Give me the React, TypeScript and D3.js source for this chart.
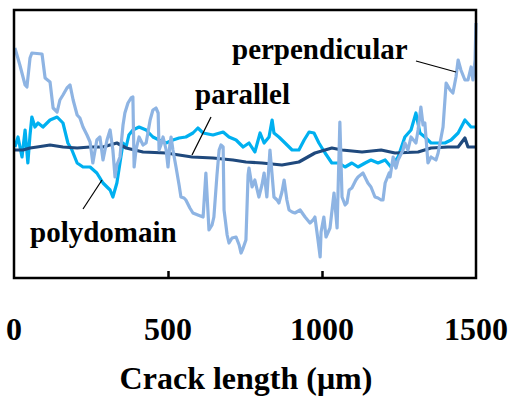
import { useEffect, useRef } from 'react'
import * as d3 from 'd3'

// crack length (µm) / height (arbitrary units, 0 = bottom of frame)
const perpX = [3, 19, 36, 42, 52, 58, 91, 101, 117, 127, 140, 149, 159, 172, 182, 192, 205, 214, 224, 237, 247, 256, 269, 279, 289, 302, 312, 321, 328, 334, 344, 354, 360, 370, 380, 386, 390, 396, 406, 419, 429, 442, 451, 461, 468, 471, 477, 484, 494, 500, 506, 510, 516, 526, 536, 542, 552, 558, 571, 581, 597, 614, 623, 633, 643, 649, 659, 666, 672, 679, 682, 692, 698, 708, 721, 731, 737, 744, 753, 760, 763, 773, 782, 795, 805, 812, 821, 831, 838, 844, 854, 860, 870, 877, 886, 893, 903, 912, 929, 945, 961, 971, 977, 987, 994, 997, 1006, 1013, 1026, 1039, 1049, 1058, 1065, 1075, 1081, 1088, 1097, 1110, 1117, 1133, 1149, 1159, 1172, 1182, 1192, 1198, 1205, 1218, 1221, 1231, 1240, 1247, 1263, 1269, 1279, 1289, 1305, 1312, 1321, 1328, 1334, 1344, 1354, 1370, 1377, 1393, 1403, 1416, 1425, 1435, 1442, 1451, 1464, 1474, 1484, 1490, 1497, 1500]
const perpY = [230, 213, 193, 191, 220, 225, 224, 200, 196, 170, 166, 178, 183, 190, 193, 178, 163, 160, 151, 143, 136, 115, 138, 141, 118, 138, 148, 128, 101, 113, 121, 153, 165, 175, 180, 181, 111, 128, 141, 133, 135, 158, 168, 170, 165, 128, 133, 141, 128, 111, 133, 141, 128, 111, 93, 81, 80, 78, 70, 65, 63, 61, 105, 48, 53, 61, 103, 128, 133, 131, 68, 43, 35, 40, 41, 33, 25, 30, 38, 103, 110, 91, 98, 81, 93, 105, 81, 128, 103, 81, 78, 75, 86, 98, 78, 68, 66, 65, 68, 61, 55, 58, 61, 38, 21, 46, 61, 41, 50, 85, 50, 156, 81, 73, 75, 88, 90, 98, 101, 105, 95, 91, 81, 80, 78, 78, 95, 105, 101, 121, 110, 118, 128, 135, 128, 141, 135, 148, 171, 153, 155, 115, 121, 118, 125, 151, 195, 188, 185, 201, 218, 208, 198, 198, 211, 198, 218, 255]

const polyX = [3, 13, 26, 36, 45, 52, 58, 68, 78, 94, 117, 140, 159, 175, 188, 205, 224, 247, 269, 289, 302, 312, 321, 334, 344, 354, 364, 373, 386, 406, 429, 451, 471, 494, 516, 536, 558, 581, 597, 614, 646, 679, 698, 721, 744, 763, 782, 799, 812, 828, 838, 844, 860, 880, 903, 925, 942, 958, 974, 990, 1010, 1032, 1055, 1075, 1097, 1117, 1140, 1159, 1182, 1205, 1224, 1247, 1269, 1289, 1305, 1318, 1334, 1354, 1377, 1399, 1419, 1442, 1464, 1484, 1497]
const polyY = [131, 141, 121, 148, 115, 143, 161, 151, 155, 151, 158, 161, 155, 135, 128, 115, 111, 111, 105, 95, 91, 88, 81, 95, 115, 135, 131, 143, 148, 151, 148, 141, 138, 135, 138, 140, 141, 145, 150, 145, 143, 146, 141, 138, 131, 135, 126, 145, 135, 141, 158, 145, 141, 135, 128, 128, 138, 146, 145, 135, 125, 115, 115, 111, 115, 111, 115, 118, 115, 118, 111, 121, 141, 148, 165, 145, 141, 135, 135, 135, 138, 145, 158, 151, 151]

const paraX = [3, 29, 52, 75, 117, 159, 205, 247, 289, 334, 364, 419, 494, 578, 646, 711, 753, 805, 870, 925, 977, 1032, 1065, 1130, 1192, 1237, 1312, 1354, 1409, 1442, 1464, 1474, 1497]
const paraY = [128, 128, 130, 131, 133, 131, 130, 131, 131, 135, 130, 126, 125, 121, 120, 118, 116, 115, 113, 116, 125, 130, 128, 126, 128, 125, 126, 130, 131, 131, 140, 131, 131]

const xTickLabels = [0, 500, 1000, 1500]
const innerTicks = [500, 1000]

const serif = '"Liberation Serif", "Times New Roman", serif'

export default function App() {
  const svgRef = useRef<SVGSVGElement>(null)

  useEffect(() => {
    if (!svgRef.current) return
    const svg = d3.select(svgRef.current)
    svg.selectAll('*').remove()

    const left = 14, right = 476, top = 10, bottom = 278
    const x = d3.scaleLinear().domain([0, 1500]).range([left, right])
    const y = d3.scaleLinear().domain([0, 268]).range([bottom, top])

    const series = [
      { xs: polyX, ys: polyY, color: '#00B0F0' },
      { xs: paraX, ys: paraY, color: '#1F497D' },
      { xs: perpX, ys: perpY, color: '#8EB4E3' },
    ]

    const line = d3.line<[number, number]>()
      .x(d => x(d[0]))
      .y(d => y(d[1]))

    series.forEach(s => {
      const pts = s.xs.map((v, i) => [v, s.ys[i]] as [number, number])
      svg.append('path')
        .attr('d', line(pts))
        .attr('fill', 'none')
        .attr('stroke', s.color)
        .attr('stroke-width', 3.2)
        .attr('stroke-linejoin', 'round')
    })

    // frame
    svg.append('rect')
      .attr('x', left)
      .attr('y', top)
      .attr('width', right - left)
      .attr('height', bottom - top)
      .attr('fill', 'none')
      .attr('stroke', '#000')
      .attr('stroke-width', 2.5)

    // inward ticks
    const axis = d3.axisBottom(x)
      .tickValues(innerTicks)
      .tickSize(-7)
      .tickFormat(() => '')
    const ax = svg.append('g')
      .attr('transform', `translate(0, ${bottom})`)
      .call(axis)
    ax.select('.domain').remove()
    ax.selectAll('line').attr('stroke', '#000').attr('stroke-width', 2.5)

    svg.append('g')
      .selectAll('text')
      .data(xTickLabels)
      .enter().append('text')
      .attr('x', d => x(d))
      .attr('y', 340)
      .attr('text-anchor', 'middle')
      .style('font-family', serif)
      .style('font-weight', 'bold')
      .style('font-size', '32px')
      .text(d => String(d))

    svg.append('text')
      .attr('x', 246)
      .attr('y', 389)
      .attr('text-anchor', 'middle')
      .style('font-family', serif)
      .style('font-weight', 'bold')
      .style('font-size', '32px')
      .text('Crack length (μm)')

    // series labels with leader lines
    const labels = [
      { text: 'perpendicular', tx: 232, ty: 59, l: [416, 61, 456, 72] },
      { text: 'parallel', tx: 195, ty: 104, l: [211, 117, 192, 155] },
      { text: 'polydomain', tx: 30, ty: 242, l: [83, 209, 102, 180] },
    ]
    labels.forEach(d => {
      svg.append('text')
        .attr('x', d.tx)
        .attr('y', d.ty)
        .style('font-family', serif)
        .style('font-weight', 'bold')
        .style('font-size', '29px')
        .text(d.text)
      svg.append('line')
        .attr('x1', d.l[0]).attr('y1', d.l[1])
        .attr('x2', d.l[2]).attr('y2', d.l[3])
        .attr('stroke', '#000')
        .attr('stroke-width', 1.2)
    })
  }, [])

  return (
    <svg
      ref={svgRef}
      width={512}
      height={396}
      style={{ position: 'absolute', left: 0, top: 0, background: '#fff' }}
    />
  )
}
